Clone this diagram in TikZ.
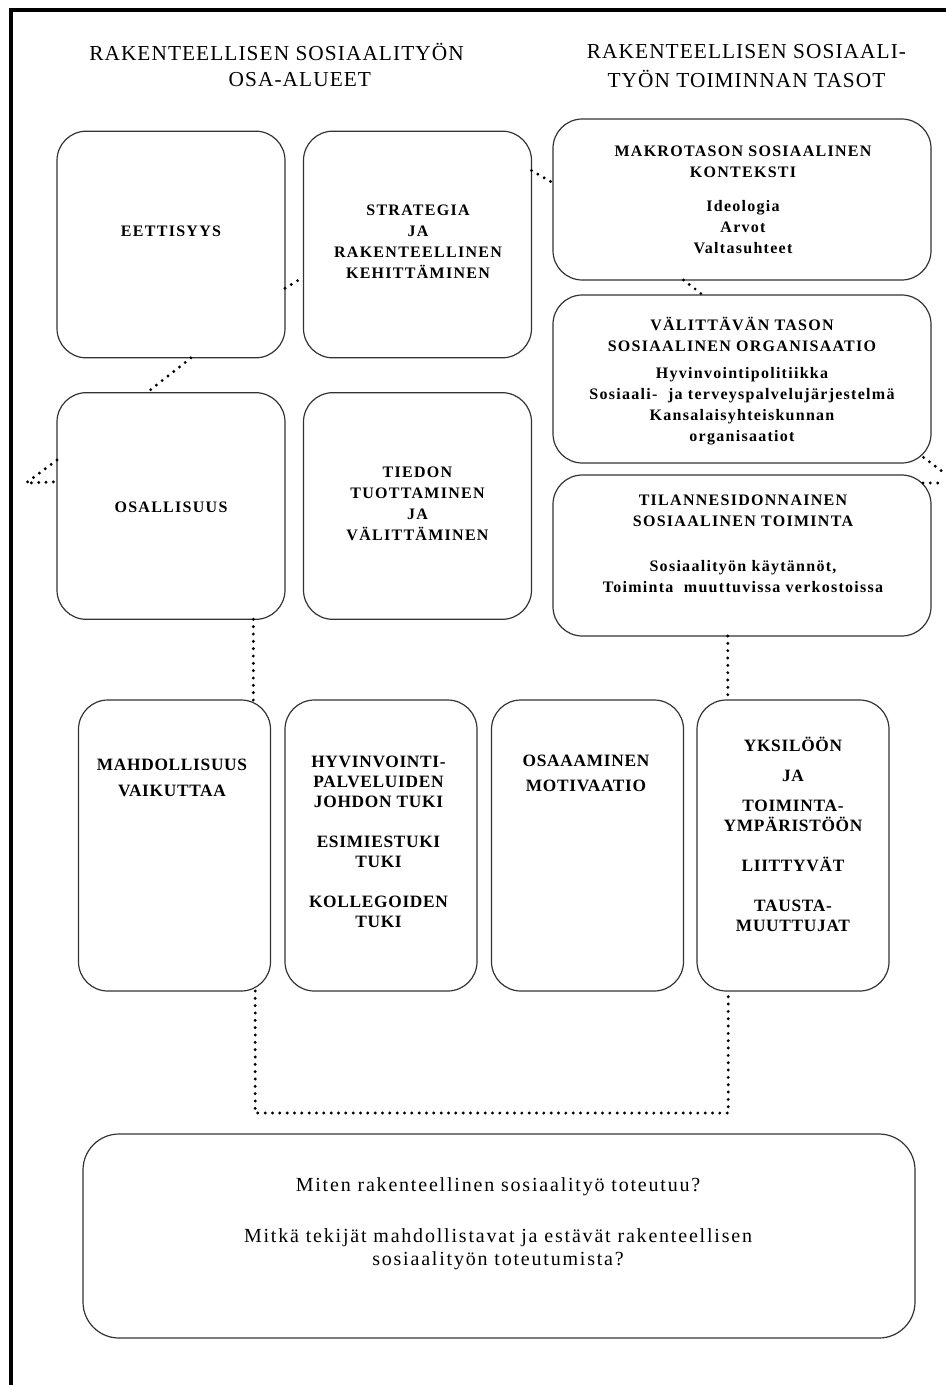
\documentclass[tikz,border=0pt]{standalone}
\usepackage{fontspec}
\setmainfont{Liberation Serif}

\tikzset{
  box/.style={draw=black!80, line width=0.9pt, rounded corners=22pt, inner sep=0pt, outer sep=0pt},
  sqbox/.style={box, minimum width=171pt, minimum height=170pt},
  levbox/.style={box, minimum width=283.5pt},
  colbox/.style={box, minimum width=144pt, minimum height=218.25pt},
  headtxt/.style={align=center, font=\fontsize{16}{19.5}\selectfont\addfontfeature{LetterSpace=5}},
  uptxt/.style={align=center, font=\fontsize{12}{15.75}\selectfont\bfseries\addfontfeature{LetterSpace=8}},
  lowtxt/.style={align=center, font=\fontsize{13}{15}\selectfont\bfseries\addfontfeature{LetterSpace=4}},
  asktxt/.style={align=center, font=\fontsize{15}{17.25}\selectfont\addfontfeature{LetterSpace=9}},
  dotline/.style={line width=2.4pt, line cap=round, dash pattern=on 0pt off 5.5pt},
}

\begin{document}
\begin{tikzpicture}[x=0.75pt, y=-0.75pt]
\useasboundingbox (0,0) rectangle (946,1385);
\draw[line width=3pt] (10.5,1385) -- (10.5,9.5) -- (946,9.5);

% otsikot
\node[headtxt] (hdrL) at (276.5,64.5) {RAKENTEELLISEN SOSIAALITYÖN\\\hspace*{35pt}OSA-ALUEET};
\node[headtxt] (hdrR) at (746.5,66) {RAKENTEELLISEN SOSIAALI-\\[2pt]TYÖN TOIMINNAN TASOT};

% osa-alueet
\node[sqbox] (eet) at (171,244.5) {};
\node[sqbox] (str) at (417.5,244.5) {};
\node[sqbox] (osa) at (171,506) {};
\node[sqbox] (tie) at (417.5,506) {};

\node[uptxt] (eetT) at (171,231) {EETTISYYS};
\node[uptxt] (strT) at (418,241.5) {STRATEGIA\\JA\\RAKENTEELLINEN\\KEHITTÄMINEN};
\node[uptxt] (osaT) at (171,507) {OSALLISUUS};
\node[uptxt] (tieT) at (417.5,504) {TIEDON\\TUOTTAMINEN\\JA\\VÄLITTÄMINEN};

% toiminnan tasot
\node[levbox, minimum height=120.75pt] (mak) at (742,199.5) {};
\node[levbox, minimum height=126pt] (val) at (742,379) {};
\node[levbox, minimum height=120.75pt] (til) at (742,555.5) {};

\node[uptxt] (makT) at (743,200) {MAKROTASON SOSIAALINEN\\KONTEKSTI\\[9.75pt]Ideologia\\Arvot\\Valtasuhteet};
\node[uptxt] (valT) at (742,381) {VÄLITTÄVÄN TASON\\SOSIAALINEN ORGANISAATIO\\[5pt]Hyvinvointipolitiikka\\Sosiaali-\ \ ja terveyspalvelujärjestelmä\\Kansalaisyhteiskunnan\\organisaatiot};
\node[uptxt] (tilT) at (743,543.5) {TILANNESIDONNAINEN\\SOSIAALINEN TOIMINTA\\[18pt]Sosiaalityön käytännöt,\\Toiminta\ \ muuttuvissa verkostoissa};

% tekijat
\node[colbox] (mah) at (174.5,845.5) {};
\node[colbox] (hyv) at (381,845.5) {};
\node[colbox] (osm) at (587.5,845.5) {};
\node[colbox] (yks) at (793,845.5) {};

\node[lowtxt] (mahT) at (172,778) {MAHDOLLISUUS\\[4.5pt]VAIKUTTAA};
\node[lowtxt] (hyvT) at (378.5,841.5) {HYVINVOINTI-\\PALVELUIDEN\\JOHDON TUKI\\[15pt]ESIMIESTUKI\\TUKI\\[15pt]KOLLEGOIDEN\\TUKI};
\node[lowtxt] (osmT) at (586,773.5) {OSAAAMINEN\\[3.75pt]MOTIVAATIO};
\node[lowtxt] (yksT) at (793,834.5) {YKSILÖÖN\\[8pt]JA\\[7.5pt]TOIMINTA-\\YMPÄRISTÖÖN\\[15pt]LIITTYVÄT\\[15pt]TAUSTA-\\MUUTTUJAT};

% kysymykset
\node[box, rounded corners=27pt, minimum width=624pt, minimum height=153pt] (kys) at (499,1236) {};
\node[asktxt] (kysT) at (498,1224) {Miten rakenteellinen sosiaalityö toteutuu?\\[21pt]Mitkä tekijät mahdollistavat ja estävät rakenteellisen\\sosiaalityön toteutumista?};

% pisteviivat
\coordinate (lftA) at (26,483);
\coordinate (rgtA) at (943,472);
\coordinate (rgtB) at (943,483);
\coordinate (botC) at (490,1113);

\draw[dotline] (eet.-21) -- (str.196);
\draw[dotline] (str.33) -- (mak.175);
\draw[dotline] (eet.-80.5) -- (osa.102.5);
\draw[dotline] (osa.158) -- (lftA) -- (osa.168.6);
\draw[dotline] (mak.-126) -- (val.115);
\draw[dotline, shorten <=-7pt] (val.south east) -- (rgtA);
\draw[dotline, shorten <=-6pt] (til.21) -- (rgtB);
\draw[dotline] (osa.-54) -- (osa.-54 |- mah.north);
\draw[dotline] (til.-100.6) -- (til.-100.6 |- yks.north);
\draw[dotline] (mah.-61.6) |- (botC) -| (yks.-114.4);

\end{tikzpicture}
\end{document}
